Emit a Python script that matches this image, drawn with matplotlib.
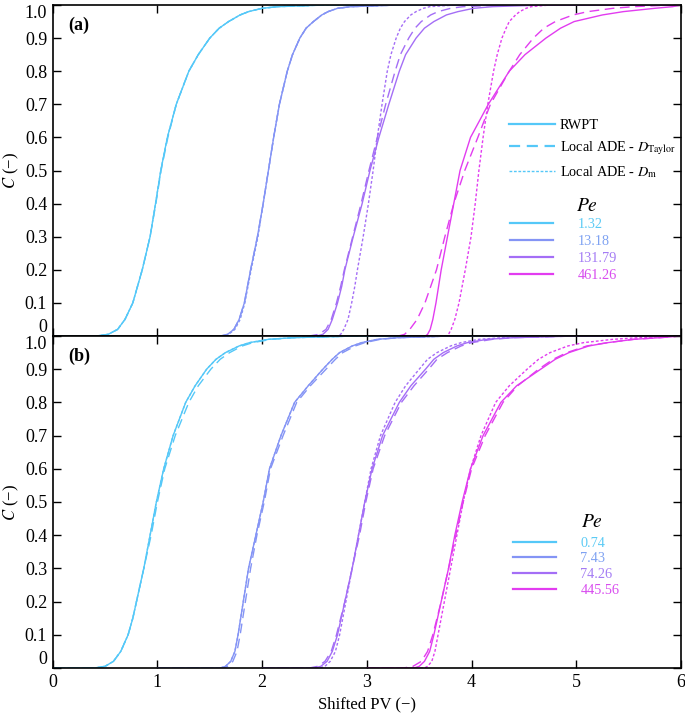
import matplotlib
matplotlib.use("Agg")
import matplotlib.pyplot as plt
from matplotlib.lines import Line2D

plt.rcParams["font.family"] = ["Liberation Serif", "DejaVu Serif"]
plt.rcParams["mathtext.fontset"] = "stix"

# C level at which each curve reaches the listed shifted PV
C_LEVELS = [0, 0, 0.005, 0.02, 0.05, 0.1, 0.15, 0.2, 0.3, 0.4, 0.5, 0.6, 0.7, 0.8,
            0.85, 0.9, 0.93, 0.95, 0.97, 0.98, 0.99, 0.995, 1.0, 1.0]

PE_A = ["1.32", "13.18", "131.79", "461.26"]
PE_B = ["0.74", "7.43", "74.26", "445.56"]
COLORS = ["#55c8f8", "#8494f5", "#a46ef6", "#e23cf0"]
TEXT_COLORS = ["#5ccbf5", "#7fa2f2", "#a47cf4", "#d84cef"]

# panel (a): shifted PV per C level, one list per Pe
A_RWPT = [
    [0, 0.42, 0.53, 0.62, 0.69, 0.765, 0.81, 0.855, 0.93, 0.982, 1.032, 1.095, 1.18, 1.30, 1.39, 1.50, 1.59, 1.68, 1.79, 1.87, 2.0, 2.15, 2.6, 6.0],
    [1.0, 1.60, 1.67, 1.73, 1.78, 1.83, 1.86, 1.89, 1.955, 2.01, 2.06, 2.11, 2.165, 2.24, 2.29, 2.36, 2.42, 2.49, 2.57, 2.63, 2.72, 2.85, 3.3, 6.0],
    [2.0, 2.52, 2.58, 2.63, 2.67, 2.72, 2.76, 2.79, 2.87, 2.955, 3.03, 3.115, 3.21, 3.31, 3.37, 3.47, 3.55, 3.64, 3.76, 3.87, 4.02, 4.2, 4.7, 6.0],
    [3.0, 3.56, 3.58, 3.605, 3.63, 3.66, 3.685, 3.71, 3.77, 3.83, 3.89, 3.99, 4.16, 4.36, 4.51, 4.71, 4.85, 4.98, 5.25, 5.45, 5.75, 5.92, 6.0, 6.0],
]
A_TAYLOR = [
    [0, 0.42, 0.53, 0.62, 0.69, 0.765, 0.81, 0.855, 0.93, 0.985, 1.035, 1.10, 1.18, 1.30, 1.39, 1.50, 1.59, 1.68, 1.79, 1.87, 2.0, 2.15, 2.6, 6.0],
    [1.0, 1.61, 1.67, 1.73, 1.78, 1.83, 1.86, 1.89, 1.955, 2.01, 2.06, 2.11, 2.165, 2.24, 2.29, 2.36, 2.42, 2.49, 2.57, 2.63, 2.72, 2.85, 3.3, 6.0],
    [2.0, 2.45, 2.54, 2.61, 2.66, 2.71, 2.75, 2.785, 2.865, 2.945, 3.02, 3.10, 3.18, 3.27, 3.32, 3.40, 3.46, 3.52, 3.61, 3.68, 3.80, 3.92, 4.3, 6.0],
    [3.0, 3.30, 3.36, 3.41, 3.48, 3.555, 3.61, 3.665, 3.745, 3.83, 3.935, 4.06, 4.18, 4.36, 4.46, 4.59, 4.69, 4.80, 4.97, 5.11, 5.35, 5.55, 5.9, 6.0],
]
A_DM = [
    [0, 0.42, 0.53, 0.62, 0.69, 0.765, 0.81, 0.855, 0.93, 0.982, 1.032, 1.095, 1.18, 1.30, 1.39, 1.50, 1.59, 1.68, 1.79, 1.87, 2.0, 2.15, 2.6, 6.0],
    [1.0, 1.61, 1.68, 1.74, 1.79, 1.835, 1.865, 1.895, 1.96, 2.01, 2.06, 2.11, 2.165, 2.24, 2.29, 2.36, 2.42, 2.49, 2.57, 2.63, 2.72, 2.85, 3.3, 6.0],
    [2.0, 2.72, 2.75, 2.78, 2.82, 2.855, 2.885, 2.91, 2.965, 3.015, 3.06, 3.10, 3.145, 3.195, 3.23, 3.28, 3.32, 3.36, 3.42, 3.47, 3.54, 3.6, 3.85, 6.0],
    [3.0, 3.76, 3.78, 3.805, 3.84, 3.88, 3.91, 3.94, 3.995, 4.035, 4.07, 4.11, 4.155, 4.21, 4.245, 4.29, 4.33, 4.36, 4.42, 4.46, 4.52, 4.57, 4.75, 6.0],
]

# panel (b)
B_RWPT = [
    [0, 0.40, 0.50, 0.58, 0.65, 0.72, 0.765, 0.80, 0.87, 0.93, 0.99, 1.06, 1.15, 1.27, 1.36, 1.47, 1.56, 1.65, 1.78, 1.88, 2.06, 2.3, 2.9, 6.0],
    [1.0, 1.60, 1.65, 1.70, 1.74, 1.77, 1.795, 1.82, 1.87, 1.94, 2.01, 2.07, 2.18, 2.31, 2.44, 2.58, 2.67, 2.74, 2.86, 2.95, 3.10, 3.3, 3.8, 6.0],
    [2.0, 2.50, 2.56, 2.62, 2.67, 2.72, 2.755, 2.79, 2.86, 2.92, 2.98, 3.05, 3.15, 3.31, 3.42, 3.56, 3.64, 3.73, 3.86, 3.96, 4.15, 4.4, 5.0, 6.0],
    [3.0, 3.45, 3.50, 3.55, 3.60, 3.64, 3.675, 3.71, 3.78, 3.84, 3.91, 3.99, 4.11, 4.28, 4.43, 4.66, 4.80, 4.93, 5.12, 5.3, 5.55, 5.8, 6.0, 6.0],
]
B_TAYLOR = [
    [0, 0.40, 0.50, 0.58, 0.65, 0.72, 0.765, 0.80, 0.87, 0.94, 1.00, 1.07, 1.17, 1.30, 1.39, 1.51, 1.60, 1.69, 1.81, 1.91, 2.09, 2.3, 2.9, 6.0],
    [1.0, 1.62, 1.67, 1.72, 1.76, 1.79, 1.815, 1.84, 1.89, 1.95, 2.02, 2.08, 2.20, 2.33, 2.46, 2.61, 2.70, 2.77, 2.89, 2.98, 3.13, 3.3, 3.8, 6.0],
    [2.0, 2.45, 2.53, 2.60, 2.66, 2.71, 2.75, 2.79, 2.86, 2.93, 2.99, 3.06, 3.17, 3.33, 3.45, 3.59, 3.67, 3.77, 3.90, 4.0, 4.2, 4.4, 5.0, 6.0],
    [3.0, 3.35, 3.44, 3.52, 3.58, 3.63, 3.67, 3.71, 3.78, 3.85, 3.92, 4.00, 4.13, 4.30, 4.44, 4.64, 4.78, 4.91, 5.1, 5.3, 5.55, 5.8, 6.0, 6.0],
]
B_DM = [
    [0, 0.40, 0.50, 0.58, 0.65, 0.72, 0.765, 0.80, 0.87, 0.93, 0.99, 1.06, 1.15, 1.27, 1.36, 1.47, 1.56, 1.65, 1.78, 1.88, 2.06, 2.3, 2.9, 6.0],
    [1.0, 1.60, 1.65, 1.70, 1.74, 1.77, 1.795, 1.82, 1.87, 1.94, 2.01, 2.07, 2.18, 2.31, 2.44, 2.58, 2.67, 2.74, 2.86, 2.95, 3.10, 3.3, 3.8, 6.0],
    [2.0, 2.55, 2.60, 2.65, 2.70, 2.74, 2.77, 2.80, 2.86, 2.92, 2.98, 3.04, 3.13, 3.27, 3.37, 3.50, 3.58, 3.67, 3.80, 3.90, 4.07, 4.3, 4.9, 6.0],
    [3.0, 3.55, 3.58, 3.62, 3.65, 3.68, 3.71, 3.74, 3.80, 3.86, 3.92, 3.99, 4.09, 4.23, 4.36, 4.53, 4.64, 4.75, 4.92, 5.07, 5.35, 5.6, 6.0, 6.0],
]

LW = 1.0
DASH = (0, (7, 4))
DOT = (0, (2, 1.5))


def draw_panel(ax, rwpt, taylor, dm):
    for i in range(4):
        ax.plot(rwpt[i], C_LEVELS, color=COLORS[i], lw=LW, ls="-")
        ax.plot(taylor[i], C_LEVELS, color=COLORS[i], lw=LW, ls=DASH)
        ax.plot(dm[i], C_LEVELS, color=COLORS[i], lw=LW, ls=DOT)

    ax.set_xlim(0, 6)
    ax.set_ylim(0, 1)
    ax.set_xticks(range(7))
    ax.set_yticks([k / 10 for k in range(11)])
    ax.set_yticklabels(["0"] + [f"{k / 10:.1f}" for k in range(1, 11)])
    ax.tick_params(direction="in", top=True, right=True, length=6, width=1.0,
                   labelsize=13, pad=4)
    for s in ax.spines.values():
        s.set_linewidth(1.2)
    labels = ax.get_yticklabels()
    labels[0].set_va("bottom")
    labels[-1].set_va("top")
    ax.set_ylabel(r"$C$ (−)", fontsize=12, labelpad=3)


def pe_legend(ax, pe, x, y, title_xy, spacing):
    handles = [Line2D([], [], color=COLORS[i], lw=1.6) for i in range(4)]
    leg = ax.legend(handles, pe, loc="upper left", bbox_to_anchor=(x, y),
                    frameon=False, fontsize=10.3, handlelength=3.0, handletextpad=1.7,
                    labelspacing=spacing, borderpad=0, borderaxespad=0,
                    labelcolor=TEXT_COLORS)
    ax.text(title_xy[0], title_xy[1], r"$Pe$", transform=ax.transAxes,
            fontsize=14, ha="center", va="center")
    return leg


fig = plt.figure(figsize=(6.85, 7.15), dpi=100)
ax_a = fig.add_axes([52.7 / 685, 1 - 336 / 715, 628.3 / 685, 331 / 715])
ax_b = fig.add_axes([52.7 / 685, 1 - 668 / 715, 628.3 / 685, 332 / 715])

draw_panel(ax_a, A_RWPT, A_TAYLOR, A_DM)
draw_panel(ax_b, B_RWPT, B_TAYLOR, B_DM)
ax_a.tick_params(labelbottom=False)
ax_b.set_xlabel("Shifted PV (−)", fontsize=12, labelpad=4)

ax_a.text(0.024, 0.94, "(a)", transform=ax_a.transAxes, fontsize=13,
          fontweight="bold", va="center")
ax_b.text(0.024, 0.94, "(b)", transform=ax_b.transAxes, fontsize=13,
          fontweight="bold", va="center")

# method legend
m_handles = [Line2D([], [], color=COLORS[0], lw=1.6, ls="-"),
             Line2D([], [], color=COLORS[0], lw=1.6, ls=(0, (5, 3))),
             Line2D([], [], color=COLORS[0], lw=1.0, ls=(0, (2, 1.2)))]
m_labels = ["RWPT", r"Local ADE - $D_{\mathrm{Taylor}}$", r"Local ADE - $D_{\mathrm{m}}$"]
leg_m = ax_a.legend(m_handles, m_labels, loc="upper left", bbox_to_anchor=(0.726, 0.656),
                    frameon=False, fontsize=10.3, handlelength=3.2, handletextpad=0.35,
                    labelspacing=0.5, borderpad=0, borderaxespad=0)
ax_a.add_artist(leg_m)
pe_legend(ax_a, PE_A, 0.728, 0.356, (0.851, 0.392), 0.27)
pe_legend(ax_b, PE_B, 0.733, 0.396, (0.858, 0.437), 0.2)

fig.savefig("out.png", dpi=100)
